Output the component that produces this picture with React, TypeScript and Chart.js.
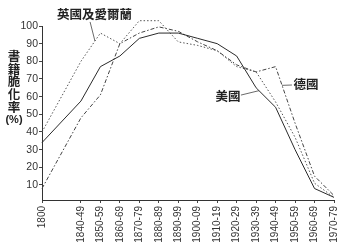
import React, { useEffect, useRef } from "react";
import { Chart, registerables } from "chart.js";

Chart.register(...registerables);

// Publication periods (x axis); 1800 sits two slots before 1840-49
const periods = ["1800", "1840-49", "1850-59", "1860-69", "1870-79", "1880-89", "1890-99", "1900-09", "1910-19", "1920-29", "1930-39", "1940-49", "1950-59", "1960-69", "1970-79"];
const periodSlots = [0, 2, 3, 4, 5, 6, 7, 8, 9, 10, 11, 12, 13, 14, 15];

// Brittle-book rate (%)
const usa = [34, 57.5, 77, 83, 93, 96, 96, 93, 90, 83, 65, 54, 30, 8, 3];
const ukIreland = [40, 80, 96, 90, 103, 103, 91, 89, 86, 77, 74, 57, 37, 11, 3];
const germany = [8, 48, 61, 90, 96, 99.5, 97, 91, 86, 78, 74, 77, 45, 15, 4];

const yTicks = [10, 20, 30, 40, 50, 60, 70, 80, 90, 100];
const yTitleChars = ["書", "籍", "脆", "化", "率"];
const yUnit = "(%)";

const seriesNames = ["美國", "英國及愛爾蘭", "德國"];

// callouts in data units: label centre, leader start, leader end
const callouts = [
  { text: seriesNames[1], label: [2.7, 106.8], from: [2.47, 102.3], to: [2.72, 91.5] },
  { text: seriesNames[0], label: [9.55, 60.4], from: [10.22, 60.9], to: [11.15, 63.4] },
  { text: seriesNames[2], label: [13.56, 67.2], from: [12.84, 66.6], to: [12.33, 66.4] },
];

const toPoints = (vals: number[]) => vals.map((v, i) => ({ x: periodSlots[i], y: v }));

const annotatePlugin = {
  id: "annotate",
  afterDraw(chart: any) {
    const ctx = chart.ctx as CanvasRenderingContext2D;
    const xs = chart.scales.x;
    const ys = chart.scales.y;
    ctx.save();
    ctx.fillStyle = "#222";
    ctx.textAlign = "center";
    ctx.textBaseline = "middle";
    ctx.font = 'bold 12.5px "Noto Sans CJK TC", sans-serif';
    yTitleChars.forEach((c, i) => ctx.fillText(c, 14, 56 + i * 12.8));
    ctx.font = 'bold 11px "Liberation Sans", Arial, sans-serif';
    ctx.fillText(yUnit, 14, 120);

    ctx.strokeStyle = "#444";
    ctx.lineWidth = 0.8;
    callouts.forEach((c) => {
      ctx.beginPath();
      ctx.moveTo(xs.getPixelForValue(c.from[0]), ys.getPixelForValue(c.from[1]));
      ctx.lineTo(xs.getPixelForValue(c.to[0]), ys.getPixelForValue(c.to[1]));
      ctx.stroke();
      ctx.font = 'bold 12.5px "Noto Sans CJK TC", sans-serif';
      ctx.fillText(c.text, xs.getPixelForValue(c.label[0]), ys.getPixelForValue(c.label[1]));
    });
    ctx.restore();
  },
};

export default function App() {
  const ref = useRef<HTMLCanvasElement | null>(null);
  useEffect(() => {
    document.body.style.margin = "0";
    const canvas = ref.current!;
    const tickFont = { family: '"Liberation Sans", Arial, sans-serif', size: 10.5 };
    const chart = new Chart(canvas, {
      type: "line",
      data: {
        datasets: [
          {
            label: seriesNames[0],
            data: toPoints(usa),
            borderColor: "#2a2a2a",
            borderWidth: 1,
            pointRadius: 0,
            fill: false,
            clip: false as any,
          },
          {
            label: seriesNames[1],
            data: toPoints(ukIreland),
            borderColor: "#555",
            borderWidth: 1,
            borderDash: [1.5, 2],
            pointRadius: 0,
            fill: false,
            clip: false as any,
          },
          {
            label: seriesNames[2],
            data: toPoints(germany),
            borderColor: "#444",
            borderWidth: 1,
            borderDash: [4, 2, 1.5, 2],
            pointRadius: 0,
            fill: false,
            clip: false as any,
          },
        ],
      },
      options: {
        responsive: false,
        animation: false,
        layout: { padding: { left: 0, right: 16, top: 26, bottom: 0 } },
        plugins: { legend: { display: false }, tooltip: { enabled: false } },
        elements: { line: { tension: 0 } },
        scales: {
          x: {
            type: "linear",
            min: 0,
            max: 15,
            afterBuildTicks: (s: any) => {
              s.ticks = periodSlots.map((v) => ({ value: v }));
            },
            afterFit: (s: any) => {
              s.height = 46;
            },
            ticks: {
              autoSkip: false,
              maxRotation: 90,
              minRotation: 90,
              padding: 3,
              color: "#333",
              font: { ...tickFont, size: 10 },
              callback: (v: any) => periods[periodSlots.indexOf(Number(v))] ?? "",
            },
            grid: { drawOnChartArea: false, drawTicks: true, tickLength: 3, color: "#444" },
            border: { display: true, color: "#333", width: 1 },
          },
          y: {
            type: "linear",
            min: 1.5,
            max: 100,
            afterBuildTicks: (s: any) => {
              s.ticks = yTicks.map((v) => ({ value: v }));
            },
            afterFit: (s: any) => {
              s.width = 42;
            },
            ticks: {
              padding: 1,
              color: "#333",
              font: tickFont,
            },
            grid: { drawOnChartArea: false, drawTicks: true, tickLength: 3, color: "#444" },
            border: { display: true, color: "#333", width: 1 },
          },
        },
      },
      plugins: [annotatePlugin],
    });
    return () => chart.destroy();
  }, []);
  return (
    <div style={{ position: "absolute", left: 0, top: 0, width: 350, height: 246 }}>
      <canvas ref={ref} width={350} height={246} />
    </div>
  );
}
